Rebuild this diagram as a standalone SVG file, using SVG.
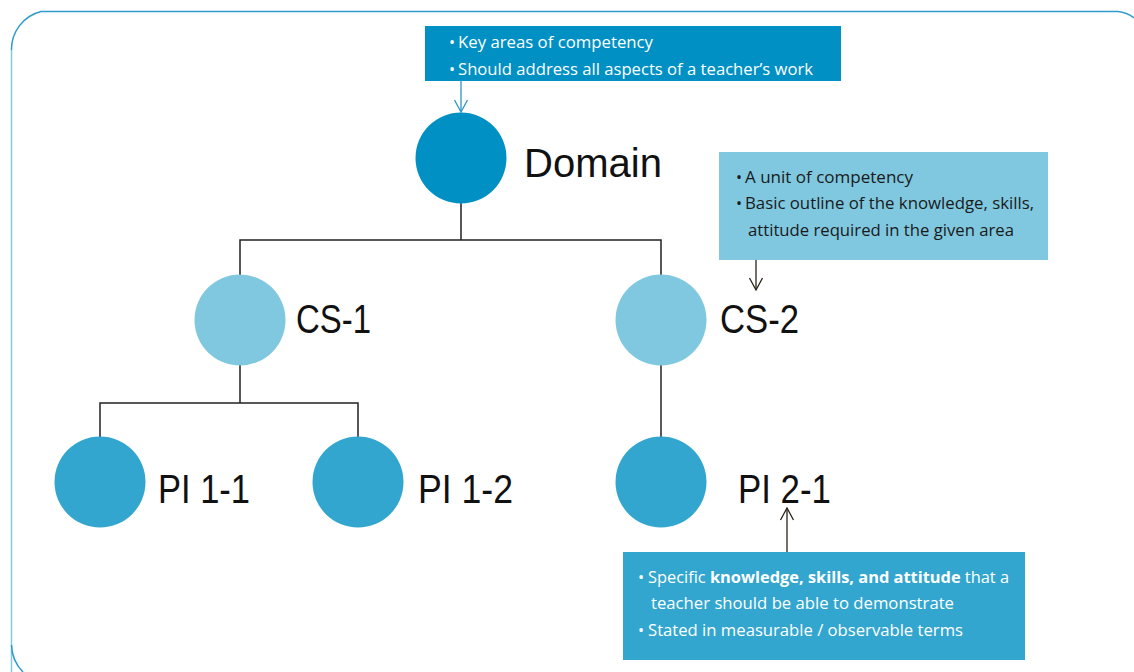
<svg xmlns="http://www.w3.org/2000/svg" width="1134" height="672" viewBox="0 0 1134 672">
<defs>
<style>
.lbl{font-family:"Liberation Sans",Arial,sans-serif;font-size:40px;fill:#111}
.bt{font-family:"Open Sans","Liberation Sans",sans-serif;font-size:16px}
.w{fill:#ffffff}
.d{fill:#1a1a1a}
.conn{stroke:#222;stroke-width:1.5;fill:none}
</style>
<marker id="ab" viewBox="0 0 14 16" refX="13" refY="8" markerWidth="14" markerHeight="16" markerUnits="userSpaceOnUse" orient="auto">
<path d="M1,1.5 L13,8 L1,14.5" fill="none" stroke="#2d95c4" stroke-width="1.3"/>
</marker>
<marker id="ak" viewBox="0 0 14 16" refX="13" refY="8" markerWidth="14" markerHeight="16" markerUnits="userSpaceOnUse" orient="auto">
<path d="M1,1.5 L13,8 L1,14.5" fill="none" stroke="#2a2418" stroke-width="1.3"/>
</marker>
</defs>
<rect width="1134" height="672" fill="#ffffff"/>
<g id="frame">
<path d="M11.5,672 L11.5,50" fill="none" stroke="#7ecbe3" stroke-width="1.5"/>
<path d="M11.5,50 A39,39 0 0 1 41,11.5 L1118,11.5 A30,30 0 0 1 1134,18" fill="none" stroke="#2e9ccb" stroke-width="1.5"/>
<path d="M11.5,645 A40,40 0 0 0 23,672" fill="none" stroke="#2e9ccb" stroke-width="1.5"/>
</g>
<g id="connectors">
<path class="conn" d="M461,203 V240 M240,275 V240 H661 V275"/>
<path class="conn" d="M240,365 V403 M100,437 V403 H358 V437"/>
<path class="conn" d="M661,365 V437"/>
<path d="M461,81 V112" stroke="#2d95c4" stroke-width="1.3" fill="none" marker-end="url(#ab)"/>
<path d="M756,260 V290" stroke="#2a2418" stroke-width="1.3" fill="none" marker-end="url(#ak)"/>
<path d="M787,552 V508" stroke="#2a2418" stroke-width="1.3" fill="none" marker-end="url(#ak)"/>
</g>
<g id="note-domain">
<rect x="425" y="26" width="416" height="55" fill="#0090c4"/>
<text class="bt w" x="449" y="48">• <tspan x="458" textLength="195" lengthAdjust="spacingAndGlyphs">Key areas of competency</tspan></text>
<text class="bt w" x="449" y="75">• <tspan x="458" textLength="355" lengthAdjust="spacingAndGlyphs">Should address all aspects of a teacher’s work</tspan></text>
</g>
<g id="note-cs">
<rect x="719" y="152" width="329" height="108" fill="#7fc8e0"/>
<text class="bt d" x="736" y="183">• <tspan x="745" textLength="168" lengthAdjust="spacingAndGlyphs">A unit of competency</tspan></text>
<text class="bt d" x="736" y="209">• <tspan x="745" textLength="289" lengthAdjust="spacingAndGlyphs">Basic outline of the knowledge, skills,</tspan></text>
<text class="bt d" x="748" y="236" textLength="266" lengthAdjust="spacingAndGlyphs">attitude required in the given area</text>
</g>
<g id="note-pi">
<rect x="623" y="552" width="402" height="108" fill="#33a6cf"/>
<text class="bt w" x="638" y="583">• <tspan x="648" textLength="361" lengthAdjust="spacingAndGlyphs">Specific <tspan font-weight="bold">knowledge, skills, and attitude</tspan> that a</tspan></text>
<text class="bt w" x="651" y="609" textLength="303" lengthAdjust="spacingAndGlyphs">teacher should be able to demonstrate</text>
<text class="bt w" x="638" y="636">• <tspan x="648" textLength="315" lengthAdjust="spacingAndGlyphs">Stated in measurable / observable terms</tspan></text>
</g>
<g id="domain">
<circle cx="461" cy="158" r="45.5" fill="#0090c4"/>
<text class="lbl" x="524" y="177" textLength="138" lengthAdjust="spacingAndGlyphs">Domain</text>
</g>
<g id="cs-1">
<circle cx="240" cy="320" r="45.5" fill="#7fc8e0"/>
<text class="lbl" x="296" y="333" textLength="75" lengthAdjust="spacingAndGlyphs">CS-1</text>
</g>
<g id="cs-2">
<circle cx="661" cy="320" r="45.5" fill="#7fc8e0"/>
<text class="lbl" x="720" y="333" textLength="79" lengthAdjust="spacingAndGlyphs">CS-2</text>
</g>
<g id="pi-1-1">
<circle cx="100" cy="482" r="45.5" fill="#33a6cf"/>
<text class="lbl" x="158" y="503" textLength="92" lengthAdjust="spacingAndGlyphs">PI 1-1</text>
</g>
<g id="pi-1-2">
<circle cx="358" cy="482" r="45.5" fill="#33a6cf"/>
<text class="lbl" x="418" y="503" textLength="95" lengthAdjust="spacingAndGlyphs">PI 1-2</text>
</g>
<g id="pi-2-1">
<circle cx="661" cy="482" r="45.5" fill="#33a6cf"/>
<text class="lbl" x="738" y="503" textLength="93" lengthAdjust="spacingAndGlyphs">PI 2-1</text>
</g>
</svg>
